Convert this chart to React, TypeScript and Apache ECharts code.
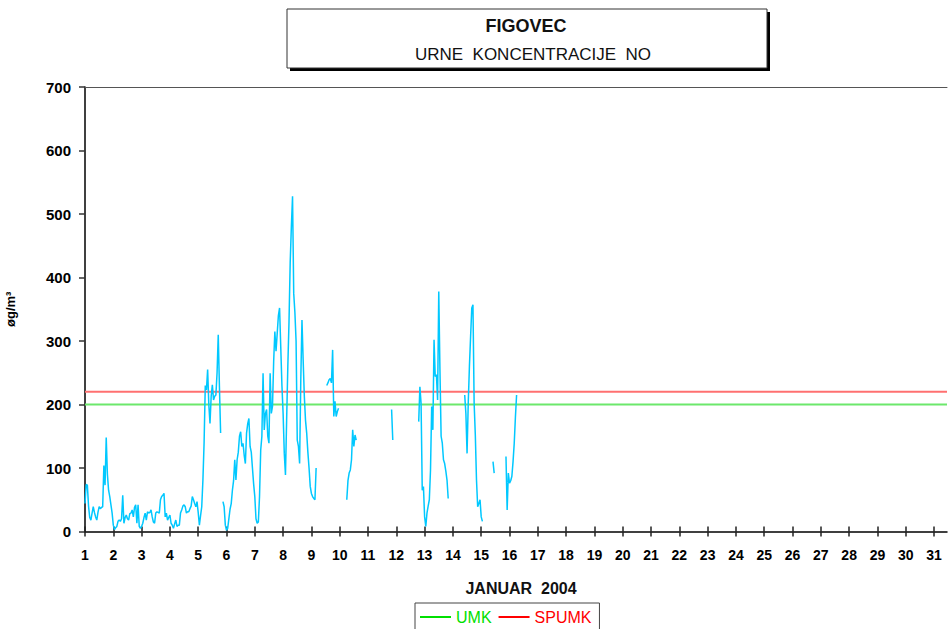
import { useEffect, useRef } from 'react';
import * as echarts from 'echarts';

// Hourly NO concentrations (øg/m³), Figovec, January 2004; null = missing hour
const day01 = [44, 74, 73, 40, 22, 18, 29, 39, 30, 23, 18, 30, 39, 36, 38, 39, 104, 73, 148, 90, 65, 55, 42, 29];
const day02 = [10, 3, 6, 8, 16, 18, 16, 20, 57, 13, 22, 26, 20, 18, 28, 29, 34, 23, 38, 42, 13, 42, 8, 5];
const day03 = [8, 13, 22, 29, 18, 31, 29, 30, 34, 23, 15, 13, 29, 31, 30, 29, 50, 55, 57, 60, 23, 29, 18, 22];
const day04 = [26, 13, 10, 5, 12, 18, 8, 10, 10, 29, 34, 40, 42, 39, 29, 31, 31, 36, 40, 55, 50, 44, 39, 47];
const day05 = [30, 10, 25, 39, 81, 140, 230, 223, 255, 200, 170, 213, 231, 207, 213, 215, 250, 310, 228, 155, null, 47, 39, 10];
const day06 = [2, 5, 20, 35, 44, 65, 80, 113, 81, 113, 125, 150, 157, 134, 139, 120, 107, 155, 170, 178, 134, 125, 100, 75];
const day07 = [55, 20, 13, 15, 55, 128, 150, 249, 160, 186, 192, 150, 139, 249, 186, 197, 268, 315, 284, 312, 340, 352, 291, 230];
const day08 = [186, 123, 89, 176, 260, 330, 423, 480, 528, 375, 345, 300, 144, 134, 107, 239, 333, 270, 213, 175, 155, 125, 100, 71];
const day09 = [60, 55, 52, 50, 100, null, null, null, null, null, null, null, null, 230, 234, 239, 241, 234, 286, 181, 205, 181, 189, 194];
const day10 = [null, null, null, null, null, null, 50, 80, 92, 97, 113, 160, 134, 152, 144, null, null, null, null, null, null, null, null, null];
const day11 = [null, null, null, null, null, null, null, null, null, null, null, null, null, null, null, null, null, null, null, null, 192, 144, null, null];
const day12 = [null, null, null, null, null, null, null, null, null, null, null, null, null, null, null, null, null, null, null, 173, 228, 202, 65, 71];
const day13 = [23, 8, 29, 40, 50, 97, 197, 160, 302, 244, 247, 207, 378, 255, 150, 139, 113, 107, 95, 81, 52, null, null, null];
const day14 = [null, null, null, null, null, null, null, null, null, null, 215, 186, 123, 202, 260, 307, 352, 357, 202, 152, 81, 39, 44, 50];
const day15 = [23, 16, null, null, null, null, null, null, null, null, 110, 92, null, null, null, null, null, null, null, null, null, 118, 34, 92];
const day16 = [76, 80, 87, 110, 139, 180, 215];

const hourlyNO: (number | null)[] = [
  ...day01, ...day02, ...day03, ...day04, ...day05, ...day06, ...day07, ...day08,
  ...day09, ...day10, ...day11, ...day12, ...day13, ...day14, ...day15, ...day16,
];

const dayTicks = Array.from({ length: 31 }, (_, i) => i + 1); // 1..31
const yTickValues = [0, 100, 200, 300, 400, 500, 600, 700];
const UMK = 200;
const SPUMK = 220;
const HOURS_SHOWN = 731;

const FONT = 'Liberation Sans, Arial, sans-serif';

export default function App() {
  const ref = useRef<HTMLDivElement>(null);

  useEffect(() => {
    const chart = echarts.init(ref.current!, null, { renderer: 'svg' });
    const tickHours = dayTicks.map((d) => (d - 1) * 24);
    const noData = hourlyNO.map((v, i) => [i, v]);

    chart.setOption({
      animation: false,
      backgroundColor: '#ffffff',
      grid: { left: 85, right: 1, top: 87, bottom: 97.5, containLabel: false, outerBoundsMode: 'none' },
      xAxis: [
        {
          type: 'value',
          position: 'bottom',
          min: 0,
          max: HOURS_SHOWN,
          axisLine: { show: true, lineStyle: { color: '#000', width: 1.5 } },
          axisTick: { show: true, length: 5, customValues: tickHours, lineStyle: { color: '#222', width: 1.5 } },
          axisLabel: {
            customValues: tickHours,
            formatter: (v: number) => String(Math.round(v / 24) + 1),
            margin: 16,
            fontFamily: FONT,
            fontWeight: 'bold',
            fontSize: 14,
            color: '#000',
          },
          splitLine: { show: false },
        },
        {
          type: 'value',
          position: 'bottom',
          min: 0,
          max: HOURS_SHOWN,
          axisLine: { show: false },
          axisTick: { show: true, inside: true, length: 5, customValues: tickHours, lineStyle: { color: '#222', width: 1.5 } },
          axisLabel: { show: false },
          splitLine: { show: false },
        },
        {
          type: 'value',
          position: 'top',
          min: 0,
          max: HOURS_SHOWN,
          axisLine: { show: true, lineStyle: { color: '#555', width: 1 } },
          axisTick: { show: false },
          axisLabel: { show: false },
          splitLine: { show: false },
        },
      ],
      yAxis: {
        type: 'value',
        min: 0,
        max: 700,
        interval: 100,
        name: 'øg/m³',
        nameLocation: 'middle',
        nameRotate: 90,
        nameGap: 68,
        nameTextStyle: { fontFamily: FONT, fontWeight: 'bold', fontSize: 13, color: '#000' },
        axisLine: { show: true, lineStyle: { color: '#000', width: 1.5 } },
        axisTick: { show: true, length: 6, lineStyle: { color: '#333', width: 1.5 } },
        axisLabel: {
          customValues: yTickValues,
          margin: 14,
          fontFamily: FONT,
          fontWeight: 'bold',
          fontSize: 15,
          color: '#000',
        },
        splitLine: { show: false },
      },
      legend: {
        left: 415,
        top: 603,
        orient: 'horizontal',
        borderColor: '#444',
        borderWidth: 1,
        padding: [6, 8, 6, 5],
        itemGap: 7,
        itemWidth: 31,
        itemHeight: 2,
        icon: 'rect',
        textStyle: { fontFamily: FONT, fontSize: 16 },
        data: [
          { name: 'UMK', itemStyle: { color: '#00e000' }, textStyle: { color: '#00e000' } },
          { name: 'SPUMK', itemStyle: { color: '#ff0000' }, textStyle: { color: '#ff0000' } },
        ],
        selectedMode: false,
      },
      graphic: [
        {
          type: 'rect',
          shape: { x: 290, y: 12, width: 480, height: 59 },
          style: { fill: '#000' },
          silent: true,
        },
        {
          type: 'rect',
          shape: { x: 287, y: 9, width: 480, height: 59 },
          style: { fill: '#fff', stroke: '#333', lineWidth: 1 },
          silent: true,
        },
        {
          type: 'text',
          x: 526,
          y: 26,
          style: {
            text: 'FIGOVEC',
            fontFamily: FONT,
            fontWeight: 'bold',
            fontSize: 18,
            fill: '#111',
            textAlign: 'center',
            textVerticalAlign: 'middle',
          },
        },
        {
          type: 'text',
          x: 533,
          y: 54,
          style: {
            text: 'URNE  KONCENTRACIJE  NO',
            fontFamily: FONT,
            fontSize: 17,
            fill: '#111',
            textAlign: 'center',
            textVerticalAlign: 'middle',
          },
        },
        {
          type: 'text',
          x: 521,
          y: 588,
          style: {
            text: 'JANUAR  2004',
            fontFamily: FONT,
            fontWeight: 'bold',
            fontSize: 16,
            fill: '#111',
            textAlign: 'center',
            textVerticalAlign: 'middle',
          },
        },
      ],
      series: [
        {
          name: 'NO',
          type: 'line',
          xAxisIndex: 0,
          data: noData,
          showSymbol: false,
          connectNulls: false,
          lineStyle: { color: '#00c8ff', width: 1.5 },
          itemStyle: { color: '#00c8ff' },
          z: 3,
        },
        {
          name: 'UMK',
          type: 'line',
          xAxisIndex: 0,
          data: [[0, UMK], [HOURS_SHOWN, UMK]],
          showSymbol: false,
          itemStyle: { color: '#00e000' },
          lineStyle: { color: '#6ce86c', width: 2 },
          z: 2,
        },
        {
          name: 'SPUMK',
          type: 'line',
          xAxisIndex: 0,
          data: [[0, SPUMK], [HOURS_SHOWN, SPUMK]],
          showSymbol: false,
          itemStyle: { color: '#ff0000' },
          lineStyle: { color: '#ff7070', width: 2 },
          z: 2,
        },
      ],
    });

    return () => chart.dispose();
  }, []);

  return (
    <div
      ref={ref}
      style={{ position: 'fixed', left: 0, top: 0, width: 948, height: 629 }}
    />
  );
}
